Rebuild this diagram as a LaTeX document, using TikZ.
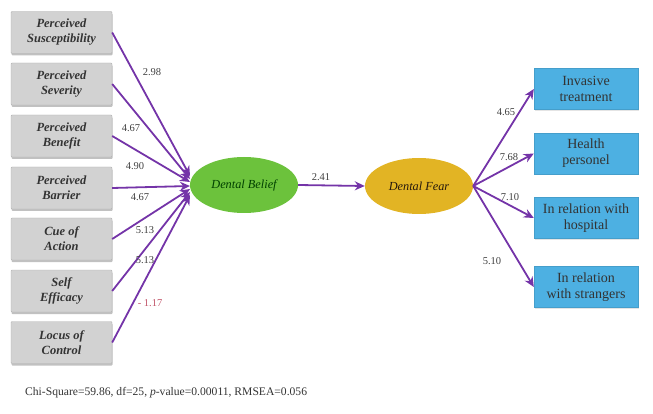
\documentclass[tikz,border=0pt]{standalone}
\usepackage{fontspec}
\setmainfont{Liberation Serif}
\usetikzlibrary{arrows.meta,shadows,shapes.geometric}
\definecolor{arrowc}{HTML}{7434A8}
\definecolor{boxgray}{HTML}{D2D2D2}
\definecolor{boxblue}{HTML}{4DB0E2}
\definecolor{belief}{HTML}{6CC23C}
\definecolor{fear}{HTML}{E2B424}
\definecolor{labred}{HTML}{C2566A}
\tikzset{
  leftbox/.style={draw=gray!60, fill=boxgray, minimum width=101pt, minimum height=42pt,
    rounded corners=1pt, align=center, font=\fontsize{12.5}{15}\selectfont\bfseries\itshape, text=black!80,
    drop shadow={shadow xshift=0.5pt, shadow yshift=-2pt, fill=gray!60, opacity=0.8}},
  rightbox/.style={draw=boxblue!90!black, fill=boxblue, minimum width=104pt, minimum height=41pt,
    align=center, font=\fontsize{14}{16}\selectfont, text=black!80,
    drop shadow={shadow xshift=0.5pt, shadow yshift=-1.5pt, fill=gray!35, opacity=0.6}},
  latent/.style={ellipse, minimum width=108pt, minimum height=56pt, inner sep=0pt,
    font=\fontsize{12.3}{14}\selectfont\itshape},
  path/.style={draw=arrowc, line width=1.8pt, -{Stealth[length=10pt,width=9pt]}},
  coef/.style={font=\fontsize{10.5}{12}\selectfont, text=black!75, inner sep=1pt}
}
\begin{document}
\begin{tikzpicture}[x=1pt,y=-1pt]
\useasboundingbox (0,0) rectangle (653,414);
% left boxes
\node[leftbox] (b1) at (61.5,32.5) {Perceived\\Susceptibility};
\node[leftbox] (b2) at (61.5,84) {Perceived\\Severity};
\node[leftbox] (b3) at (61.5,136) {Perceived\\Benefit};
\node[leftbox] (b4) at (61.5,188) {Perceived\\Barrier};
\node[leftbox] (b5) at (61.5,239) {Cue of\\Action};
\node[leftbox] (b6) at (61.5,291) {Self\\Efficacy};
\node[leftbox] (b7) at (61.5,342.5) {Locus of\\Control};
% latent
\node[latent, fill=belief, text=green!25!black] (db) at (244,185) {Dental Belief};
\node[latent, fill=fear, text=black!80!brown] (df) at (419,186) {Dental Fear};
% right boxes
\node[rightbox] (r1) at (586,89) {Invasive\\treatment};
\node[rightbox] (r2) at (586,153.5) {Health\\personel};
\node[rightbox] (r3) at (586,218) {In relation with\\hospital};
\node[rightbox] (r4) at (586,287) {In relation\\with strangers};
% endpoints near Dental Belief
\coordinate (e1) at (190,176);
\coordinate (e2) at (190,179);
\coordinate (e3) at (190,182);
\coordinate (e4) at (190,186);
\coordinate (e5) at (190,189);
\coordinate (e6) at (190,192);
\coordinate (e7) at (190,195);
\draw[path] (b1.east) -- (e1);
\draw[path] (b2.east) -- (e2);
\draw[path] (b3.east) -- (e3);
\draw[path] (b4.east) -- (e4);
\draw[path] (b5.east) -- (e5);
\draw[path] (b6.east) -- (e6);
\draw[path] (b7.east) -- (e7);
\draw[path] (db.east) -- (df.west);
\draw[path] (df.east) -- (r1.west);
\draw[path] (df.east) -- (r2.west);
\draw[path] (df.east) -- (r3.west);
\draw[path] (df.east) -- (r4.west);
% coefficients
\node[coef] (c1) at (152,72) {2.98};
\node[coef] (c2) at (131,128) {4.67};
\node[coef] (c3) at (135,166) {4.90};
\node[coef] (c4) at (140,197) {4.67};
\node[coef] (c5) at (145,230) {5.13};
\node[coef] (c6) at (145,260) {5.13};
\node[coef, text=labred] (c7) at (150,303) {- 1.17};
\node[coef] (c8) at (321,177) {2.41};
\node[coef] (c9) at (506,112) {4.65};
\node[coef] (c10) at (509,157) {7.68};
\node[coef] (c11) at (510,197) {7.10};
\node[coef] (c12) at (492,261) {5.10};
% fit
\node[anchor=west, font=\fontsize{11.6}{13}\selectfont, text=black!80, inner sep=0pt] (fit) at (25,393)
  {Chi-Square=59.86, df=25, \textit{p}-value=0.00011, RMSEA=0.056};
\end{tikzpicture}
\end{document}
